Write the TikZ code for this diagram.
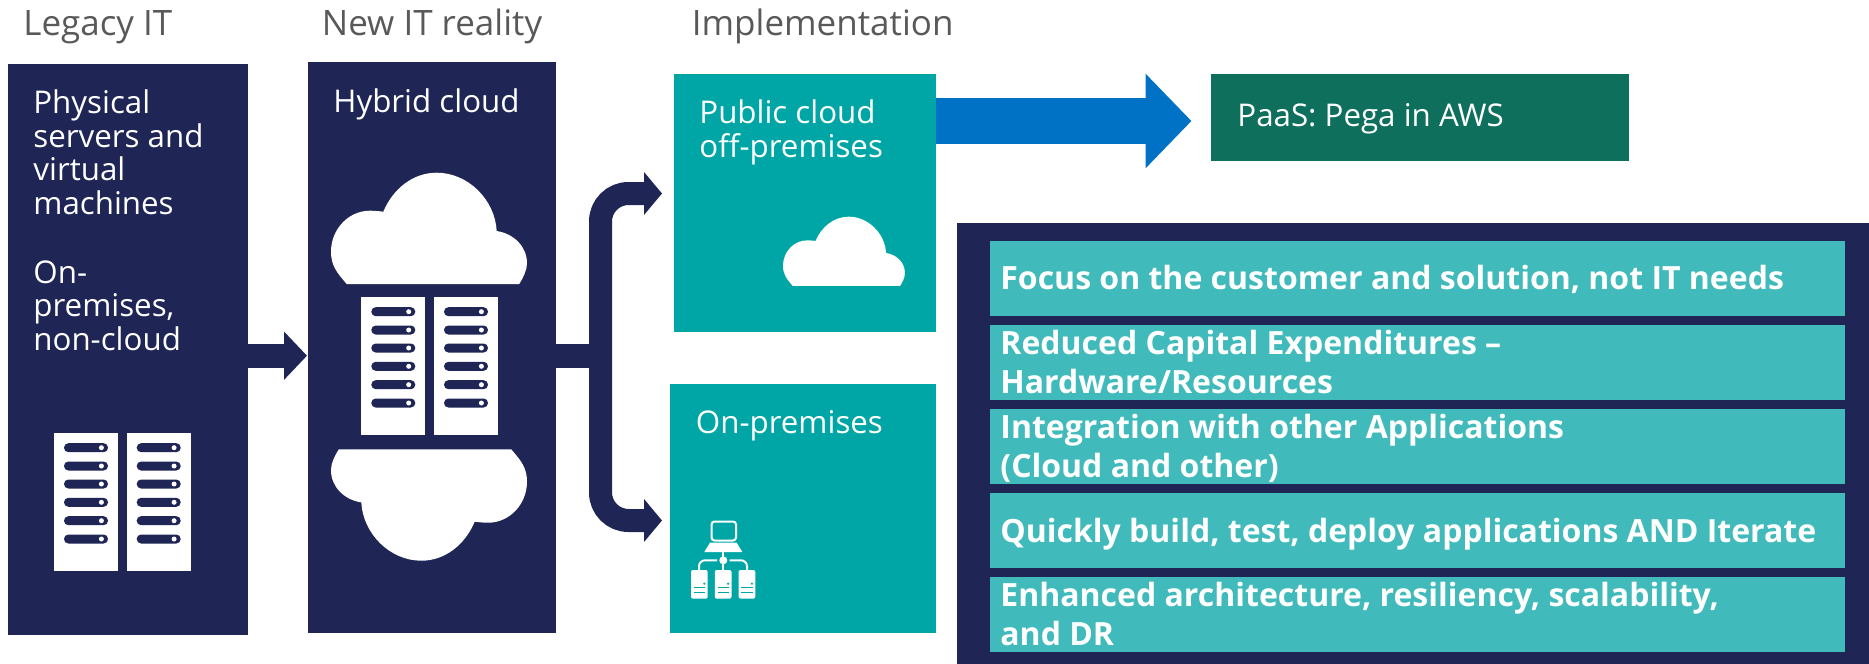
\documentclass[tikz,border=0pt]{standalone}
\usepackage{fontspec}
\setmainfont{Open Sans}
\usetikzlibrary{arrows.meta}

\definecolor{navy}{HTML}{1F2656}
\definecolor{seateal}{HTML}{00A6A6}
\definecolor{lightteal}{HTML}{40BABA}
\definecolor{deepgreen}{HTML}{0E6F5C}
\definecolor{arrowblue}{HTML}{0072C6}
\definecolor{headgrey}{HTML}{595959}

\tikzset{
  box/.style={inner sep=0pt, outer sep=0pt, draw=none},
  navybox/.style={box, fill=navy},
  tealbox/.style={box, fill=seateal},
  rowbox/.style={box, fill=lightteal, minimum width=427.5pt, minimum height=37.5pt},
  headtext/.style={anchor=base west, inner sep=0pt, text=headgrey, font=\fontsize{17.5pt}{21pt}\selectfont},
  bodytext/.style={anchor=base west, inner sep=0pt, text=white, align=left, font=\fontsize{15.65pt}{16.75pt}\selectfont},
  rowtext/.style={anchor=base west, inner sep=0pt, text=white, align=left, font=\fontsize{16pt}{19.5pt}\selectfont\bfseries},
  cloudicon/.pic={
    \fill[white] (15.7,111.3) .. controls (6,100) and (0,93) .. (0,79)
      .. controls (0,57) and (17,38) .. (39,38)
      .. controls (44,38) and (48,38.5) .. (52.3,39)
      .. controls (62,16) and (82,0) .. (105.7,0)
      .. controls (137,0) and (164,27) .. (165.7,58.3)
      .. controls (183,61) and (196,74) .. (196,90.6)
      .. controls (196,98) and (192,105) .. (188.3,111.3) -- cycle;
  },
  rackpair/.pic={
    \foreach \rx in {0,72.7} {
      \fill[white] (\rx,0) rectangle (\rx+64,138.3);
      \foreach \sy in {14.7,33,51,69.3,87.7,106} {
        \fill[navy, rounded corners=2.2pt] (\rx+10,\sy-4.5) rectangle (\rx+54,\sy+4.5);
        \fill[white] (\rx+47.4,\sy) circle (1.25pt);
      }
    }
  }
}

\begin{document}
\begin{tikzpicture}[x=0.5pt, y=-0.5pt]
\useasboundingbox (0,0) rectangle (1869,664);

\node[navybox, minimum width=120pt, minimum height=285.5pt] (legacy) at (128,349.5) {};
\node[navybox, minimum width=124pt, minimum height=285.5pt] (hybrid) at (432,347.5) {};
\node[tealbox, minimum width=131pt, minimum height=129pt] (pub) at (805,203) {};
\node[tealbox, minimum width=133pt, minimum height=124.5pt] (onprem) at (803,508.5) {};
\node[box, fill=deepgreen, minimum width=209pt, minimum height=43.5pt] (paas) at (1420,117.5) {};
\node[navybox, minimum width=456pt, minimum height=220.5pt] (panel) at (1413,443.5) {};

\node[rowbox] (r1) at (1417.5,278.5) {};
\node[rowbox] (r2) at (1417.5,362.5) {};
\node[rowbox] (r3) at (1417.5,446.5) {};
\node[rowbox] (r4) at (1417.5,530.5) {};
\node[rowbox] (r5) at (1417.5,614.5) {};

\node[headtext] (tlegacy) at (23,35.5) {Legacy IT};
\node[headtext] (tnew) at (321.5,35.5) {New IT reality};
\node[headtext] (timpl) at (691.5,35.5) {Implementation};

\node[bodytext] (tphys) at (33,214) {Physical\\servers and\\virtual\\machines};
\node[bodytext] (tprem) at (33,350) {On-\\premises,\\non-cloud};
\node[bodytext] (thybrid) at (333,112) {Hybrid cloud};
\node[bodytext] (tpub) at (699,157) {Public cloud\\off-premises};
\node[bodytext] (tonprem) at (695.5,433.3) {On-premises};
\node[bodytext] (tpaas) at (1237,126) {PaaS: Pega in AWS};

\node[rowtext] (t1) at (1000,289) {Focus on the customer and solution, not IT needs};
\node[rowtext] (t2) at (1000,393.7) {Reduced Capital Expenditures --\\Hardware/Resources};
\node[rowtext] (t3) at (1000,477) {Integration with other Applications\\(Cloud and other)};
\node[rowtext] (t4) at (1000,542) {Quickly build, test, deploy applications AND Iterate};
\node[rowtext] (t5) at (1000,645) {Enhanced architecture, resiliency, scalability,\\and DR};

\pic at (54,433) {rackpair};
\pic at (361.3,297) {rackpair};
\pic at (331,172.7) {cloudicon};
\pic[rotate=180] at (527,560.7) {cloudicon};
\pic[scale=0.622] at (783,216.7) {cloudicon};

\coordinate (a1) at (248,355.7);
\coordinate (a2) at (307,355.7);
\coordinate (b1) at (556,356);
\coordinate (fork) at (600.5,356);
\coordinate (b2) at (662,193.5);
\coordinate (b3) at (662,520.5);
\coordinate (c1) at (936,121);
\coordinate (c2) at (1191.5,121);

\draw[navy, line width=12pt, -{Triangle[width=23.5pt, length=11.5pt]}] (a1) -- (a2);
\draw[navy, line width=12pt] (b1) -- (fork);
\draw[navy, line width=11.5pt, rounded corners=14pt, -{Triangle[width=21pt, length=9pt]}] (fork) |- (b2);
\draw[navy, line width=11.5pt, rounded corners=14pt, -{Triangle[width=21pt, length=9pt]}] (fork) |- (b3);
\draw[arrowblue, line width=23.15pt, -{Triangle[width=46pt, length=23pt]}] (c1) -- (c2);

\draw[white, line width=1pt, rounded corners=1.5pt] (711.5,521.5) rectangle (736,540.5);
\fill[white] (710,542.7) -- (736.7,542.7) -- (742.3,552) -- (704.3,552) -- cycle;
\fill[white] (723.3,560.3) circle (2pt);
\draw[white, line width=1pt] (723.3,552) -- (723.3,570);
\draw[white, line width=1pt, rounded corners=3pt] (717,560.3) -- (699,560.3) -- (699,570);
\draw[white, line width=1pt, rounded corners=3pt] (729.5,560.3) -- (747,560.3) -- (747,570);
\foreach \sx in {691,714.8,738.6} {
  \fill[white, rounded corners=1pt] (\sx,570) rectangle (\sx+16.7,598.7);
  \fill[seateal] (\sx+2.7,587) rectangle (\sx+14,588.3);
  \fill[seateal] (\sx+2.7,592) rectangle (\sx+14,593.3);
  \fill[seateal] (\sx+13.3,583.7) circle (0.6pt);
}
\end{tikzpicture}
\end{document}
